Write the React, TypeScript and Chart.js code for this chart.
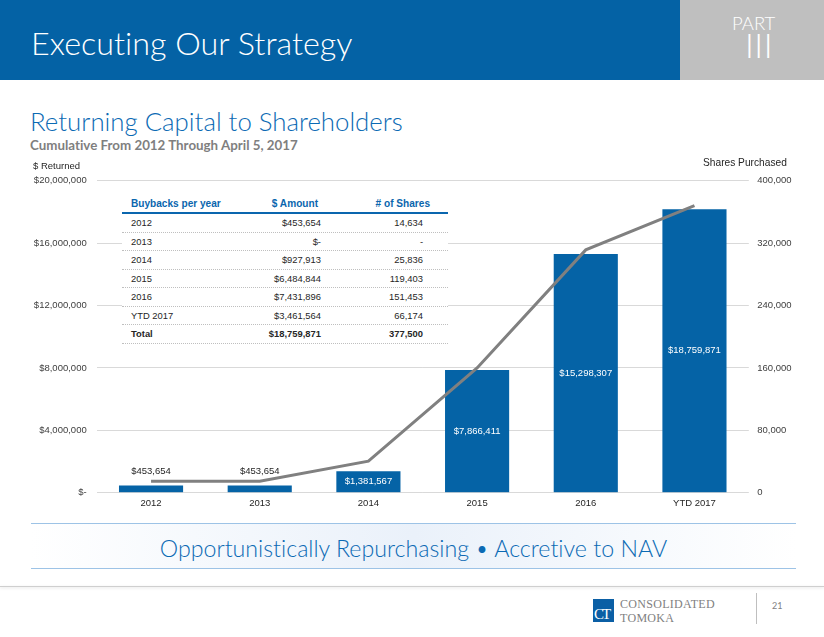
import React, { useEffect, useRef } from 'react';
import { Chart, registerables } from 'chart.js';

Chart.register(...registerables);

// ---- data ----
const categories = ['2012', '2013', '2014', '2015', '2016', 'YTD 2017'];
const cumulativeReturned = [453654, 453654, 1381567, 7866411, 15298307, 18170000];
const returnedLabels = ['$453,654', '$453,654', '$1,381,567', '$7,866,411', '$15,298,307', '$18,759,871'];
const cumulativeShares = [14634, 14634, 40470, 159873, 311326, 368000];

const leftAxisMax = 20000000;
const leftAxisStep = 4000000;
const rightAxisMax = 400000;
const rightAxisStep = 80000;

const tableHeader = ['Buybacks per year', '$ Amount', '# of Shares'];
const tableYears = ['2012', '2013', '2014', '2015', '2016', 'YTD 2017'];
const tableAmounts = ['$453,654', '$-', '$927,913', '$6,484,844', '$7,431,896', '$3,461,564'];
const tableShares = ['14,634', '-', '25,836', '119,403', '151,453', '66,174'];
const tableTotal = ['Total', '$18,759,871', '377,500'];

const BLUE = '#0563A6';
const ARIAL = '"Liberation Sans", Arial, sans-serif';
const GOTHIC = 'Lato, "Open Sans", sans-serif';

const barLabelPlugin = {
  id: 'barLabels',
  afterDatasetsDraw(chart: any) {
    const meta = chart.getDatasetMeta(1);
    const ctx = chart.ctx;
    meta.data.forEach((bar: any, i: number) => {
      const { x, y, base } = bar.getProps(['x', 'y', 'base'], true);
      const h = base - y;
      ctx.save();
      ctx.font = `9.5px ${ARIAL}`;
      ctx.textAlign = 'center';
      ctx.textBaseline = 'middle';
      if (h < 16) {
        ctx.fillStyle = '#262626';
        ctx.fillText(returnedLabels[i], x, y - 14);
      } else {
        ctx.fillStyle = '#ffffff';
        ctx.fillText(returnedLabels[i], x, (y + base) / 2);
      }
      ctx.restore();
    });
  },
};

function ChartBox() {
  const ref = useRef<HTMLCanvasElement | null>(null);
  useEffect(() => {
    if (!ref.current) return;
    const chart = new Chart(ref.current, {
      type: 'bar',
      data: {
        labels: categories,
        datasets: [
          {
            type: 'line',
            label: 'Shares Purchased',
            data: cumulativeShares,
            yAxisID: 'y1',
            borderColor: '#808080',
            backgroundColor: '#808080',
            borderWidth: 3,
            pointRadius: 0,
            tension: 0,
            order: 0,
          } as any,
          {
            type: 'bar',
            label: '$ Returned',
            data: cumulativeReturned,
            yAxisID: 'y',
            backgroundColor: BLUE,
            barPercentage: 0.59,
            categoryPercentage: 1,
            order: 1,
          },
        ],
      },
      options: {
        responsive: false,
        animation: false,
        devicePixelRatio: 1,
        layout: { padding: { top: 30.7, left: 0, right: 0, bottom: 0 } },
        plugins: { legend: { display: false }, tooltip: { enabled: false } },
        scales: {
          x: {
            grid: { display: false, drawTicks: false },
            border: { display: false },
            ticks: { font: { size: 9.5, family: ARIAL }, color: '#262626', padding: 5 },
            afterFit(scale: any) {
              scale.height = 27.3;
            },
          },
          y: {
            position: 'left',
            min: 0,
            max: leftAxisMax,
            grid: { color: '#d9d9d9', drawTicks: false, lineWidth: 1 },
            border: { display: false },
            ticks: {
              stepSize: leftAxisStep,
              padding: 10,
              font: { size: 9.5, family: ARIAL },
              color: '#404040',
              callback: (v: any) => (v === 0 ? '$-' : '$' + Number(v).toLocaleString('en-US')),
            },
            afterFit(scale: any) {
              scale.width = 96.7;
            },
          },
          y1: {
            position: 'right',
            min: 0,
            max: rightAxisMax,
            grid: { display: false, drawTicks: false },
            border: { display: false },
            ticks: {
              stepSize: rightAxisStep,
              padding: 8.5,
              font: { size: 9.5, family: ARIAL },
              color: '#404040',
              callback: (v: any) => Number(v).toLocaleString('en-US'),
            },
            afterFit(scale: any) {
              scale.width = 75.2;
            },
          },
        },
      },
      plugins: [barLabelPlugin],
    } as any);
    return () => chart.destroy();
  }, []);
  return <canvas ref={ref} width={824} height={370} style={{ display: 'block', width: 824, height: 370 }} />;
}

const abs = (left: number, top: number, extra: React.CSSProperties = {}): React.CSSProperties => ({
  position: 'absolute',
  left,
  top,
  whiteSpace: 'nowrap',
  fontVariantLigatures: 'none',
  ...extra,
});

function Table() {
  const rowH = 18.5;
  const cell = (txt: string, w: number, align: 'left' | 'right', bold = false, pad = 0): React.ReactNode => (
    <div style={{ width: w, textAlign: align, fontWeight: bold ? 'bold' : 'normal', paddingRight: pad, boxSizing: 'border-box' }}>{txt}</div>
  );
  const rows = tableYears.map((y, i) => [y, tableAmounts[i], tableShares[i]]);
  return (
    <div style={abs(122, 195, { width: 326, background: '#ffffff', fontFamily: ARIAL, color: '#262626', paddingTop: 0 })}>
      <div style={{ display: 'flex', height: 17, lineHeight: '17px', fontSize: 10.1, color: '#0A66AE', fontWeight: 'bold', borderBottom: '2px solid #0A66AE', paddingLeft: 9 }}>
        {cell(tableHeader[0], 84, 'left', true)}
        {cell(tableHeader[1], 106, 'right', true, 3)}
        {cell(tableHeader[2], 109, 'right', true)}
      </div>
      {rows.concat([tableTotal]).map((r, i) => {
        const bold = i === rows.length;
        return (
          <div key={i} style={{ display: 'flex', height: rowH - 1, lineHeight: `${rowH - 1}px`, fontSize: 9.4, borderBottom: '1px dotted #bfbfbf', paddingLeft: 9 }}>
            {cell(r[0], 84, 'left', bold)}
            {cell(r[1], 106, 'right', bold)}
            {cell(r[2], 102, 'right', bold)}
          </div>
        );
      })}
    </div>
  );
}

export default function App() {
  return (
    <div style={{ position: 'absolute', left: 0, top: 0, width: 824, height: 637, background: '#ffffff', overflow: 'hidden' }}>
      {/* header */}
      <div style={abs(0, 0, { width: 680, height: 80, background: '#0462A5' })} />
      <div style={abs(680, 0, { width: 144, height: 80, background: '#BFBFBF' })} />
      <div style={abs(31, 23, { fontFamily: GOTHIC, fontWeight: 300, fontSize: 32.3, lineHeight: '40px', color: '#ffffff' })}>Executing Our Strategy</div>
      <div style={abs(732, 12, { fontFamily: GOTHIC, fontWeight: 300, fontSize: 18.5, lineHeight: '22px', color: '#ffffff' })}>PART</div>
      <div style={abs(745, 27, { fontFamily: GOTHIC, fontWeight: 300, fontSize: 34, lineHeight: '36px', color: '#ffffff', letterSpacing: 0.5 })}>III</div>

      {/* titles */}
      <div style={abs(30, 105, { fontFamily: GOTHIC, fontWeight: 300, fontSize: 25.8, lineHeight: '32px', color: '#0B6AB4' })}>Returning Capital to Shareholders</div>
      <div style={abs(30, 137, { fontFamily: GOTHIC, fontWeight: 'bold', fontSize: 13.35, lineHeight: '16px', color: '#7F7F7F' })}>Cumulative From 2012 Through April 5, 2017</div>

      {/* chart */}
      <div style={abs(0, 150, { width: 824, height: 370 })}>
        <ChartBox />
      </div>
      <div style={abs(33, 159, { fontFamily: ARIAL, fontSize: 9.5, lineHeight: '13px', color: '#262626' })}>$ Returned</div>
      <div style={abs(703, 156, { fontFamily: ARIAL, fontSize: 10.2, lineHeight: '13px', color: '#262626' })}>Shares Purchased</div>
      <Table />

      {/* footer band */}
      <div
        style={abs(31, 523, {
          width: 765,
          height: 44,
          borderTop: '1px solid #9DC3E6',
          borderBottom: '1px solid #9DC3E6',
          background: 'linear-gradient(90deg, #ffffff 0%, #eaf1fa 50%, #ffffff 100%)',
        })}
      />
      <div style={abs(31, 530, { width: 765, textAlign: 'center', fontFamily: GOTHIC, fontWeight: 300, fontSize: 23.2, lineHeight: '36px', color: '#0B6AB4' })}>
        Opportunistically Repurchasing • Accretive to NAV
      </div>
      <div style={abs(0, 586, { width: 824, height: 1, background: '#cfcfcf', boxShadow: '0 1px 3px rgba(0,0,0,0.15)' })} />

      {/* logo */}
      <div style={abs(593, 599, { width: 21, height: 23, background: '#0B5FA5', overflow: 'hidden' })}>
        <div style={{ position: 'absolute', left: 1, top: 7, fontFamily: '"Liberation Serif", serif', fontSize: 15, lineHeight: '16px', color: '#ffffff', letterSpacing: -2 }}>CT</div>
      </div>
      <div style={abs(620, 597, { fontFamily: '"Liberation Serif", serif', fontSize: 12, lineHeight: '14px', color: '#7F7F7F', letterSpacing: 0.3 })}>CONSOLIDATED</div>
      <div style={abs(620, 611, { fontFamily: '"Liberation Serif", serif', fontSize: 12, lineHeight: '14px', color: '#7F7F7F', letterSpacing: 0.3 })}>TOMOKA</div>
      <div style={abs(756, 593, { width: 1, height: 31, background: '#BFBFBF' })} />
      <div style={abs(772, 600, { fontFamily: GOTHIC, fontSize: 9, lineHeight: '12px', color: '#7F7F7F' })}>21</div>
    </div>
  );
}
